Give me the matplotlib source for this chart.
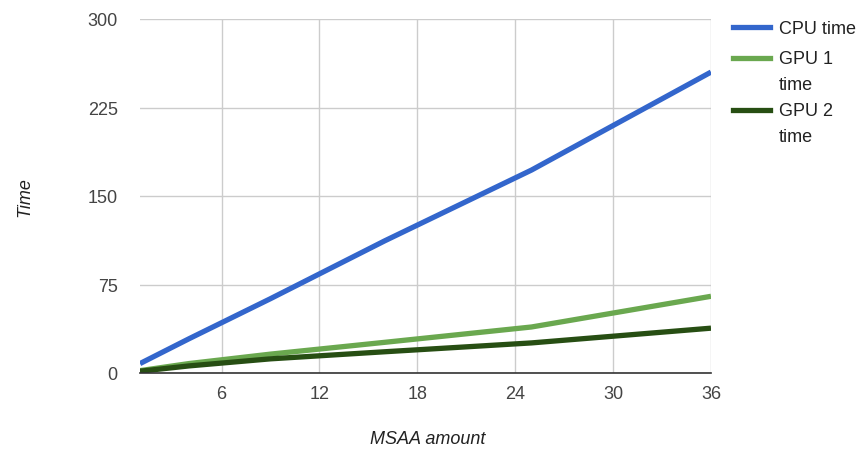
import matplotlib.pyplot as plt
from matplotlib.lines import Line2D

plt.rcParams['font.family'] = ['Liberation Sans', 'DejaVu Sans']

# MSAA sample counts and measured times
msaa = [1, 4, 9, 16, 25, 36]
cpu_time = [8, 29, 63, 112, 172, 255]
gpu1_time = [2, 8, 16, 26, 39, 65]
gpu2_time = [1.5, 6, 12, 18, 25.5, 38]

series_names = [["CPU time"], ["GPU 1", "time"], ["GPU 2", "time"]]
colors = ["#3366cc", "#6aa84f", "#274e13"]

FS = 13
W, H = 861, 452
fig = plt.figure(figsize=(W / 100, H / 100), dpi=100)
ax = fig.add_axes([140 / W, 1 - 374 / H, (711 - 140) / W, (374 - 20) / H])

for ys, c in zip([cpu_time, gpu1_time, gpu2_time], colors):
    ax.plot(msaa, ys, color=c, lw=3.8, solid_capstyle="butt", zorder=3)

ax.set_xlim(1, 36)
ax.set_ylim(0, 300)
ax.set_xticks([6, 12, 18, 24, 30, 36])
ax.set_yticks([0, 75, 150, 225, 300])
ax.grid(True, color="#cccccc", lw=1)
ax.set_axisbelow(True)
for s in ["top", "right", "left"]:
    ax.spines[s].set_visible(False)
ax.spines["bottom"].set_color("#333333")
ax.spines["bottom"].set_linewidth(1.2)
ax.spines["bottom"].set_zorder(4)
ax.tick_params(length=0, labelsize=FS, labelcolor="#444444")
ax.tick_params(axis="x", pad=9)
ax.tick_params(axis="y", pad=16)

fig.text(428 / W, 1 - 440 / H, "MSAA amount", ha="center", va="center",
         style="italic", fontsize=FS, color="#222222")
fig.text(25 / W, 1 - 197 / H, "Time", ha="center", va="center",
         rotation=90, style="italic", fontsize=FS, color="#222222")

# legend drawn by hand so the swatch sits on the first text line
legend_y = [28, 59, 111]
line_step = 25
for lines, c, y in zip(series_names, colors, legend_y):
    fy = 1 - y / H
    fig.add_artist(Line2D([733 / W, 770 / W], [fy, fy], color=c, lw=3.8,
                          transform=fig.transFigure))
    for i, txt in enumerate(lines):
        fig.text(779 / W, 1 - (y + 1 + i * line_step) / H, txt, ha="left",
                 va="center", fontsize=FS, color="#222222")

fig.savefig("out.png", dpi=100)
